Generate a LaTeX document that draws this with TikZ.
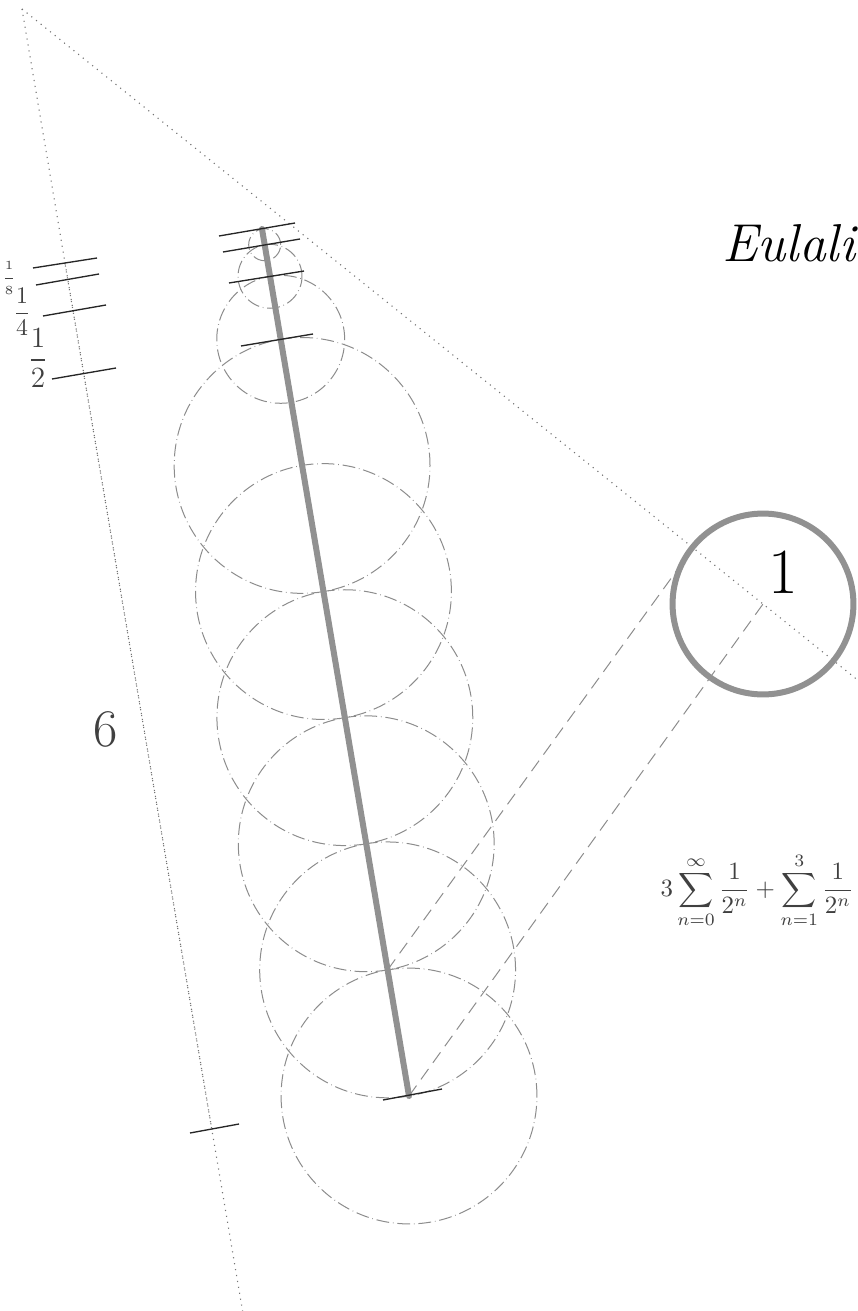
\RequirePackage{fix-cm}
\documentclass[tikz,border=0pt]{standalone}
\usepackage{amsmath}
\usetikzlibrary{calc}
\begin{document}
\begin{tikzpicture}[x=0.45pt,y=-0.45pt,
  thickseg/.style={line width=2.7pt, draw=black!43, line cap=round},
  tickmark/.style={line width=0.6pt, draw=black!85},
  dotline/.style={line width=0.5pt, draw=black!55, dash pattern=on 0.5pt off 2.2pt},
  dashline/.style={line width=0.45pt, draw=black!45, dash pattern=on 5.8pt off 3.4pt},
  ddcircle/.style={line width=0.45pt, draw=black!45, dash pattern=on 5.8pt off 1.7pt on 0.3pt off 1.7pt},
  ringone/.style={line width=2.7pt, draw=black!43},
  lbl/.style={text=black!75, inner sep=0pt}]
\useasboundingbox (0,0) rectangle (858,1311);
\clip (0,0) rectangle (858,1311);
\def\u{57.56pt}
\coordinate (A) at (22,9);
\coordinate (P) at (262,229);
\coordinate (B) at (409,1096);
\coordinate (C) at (763,604);
\coordinate (R0) at (64.8,262.4);
\coordinate (Rb) at (211.8,1129.3);
\foreach \t/\n in {0.125/p1, 0.375/p2, 0.875/p3, 1.875/c1, 2.875/c2, 3.875/c3, 4.875/c4, 5.875/c5}
  \coordinate (\n) at ($(P)!\t/6.875!(B)$);
\coordinate (D) at ($(C)!0.0943!(A)$);
% dotted construction lines
\draw[dotline] (A) -- ($(A)!1.2!(Rb)$);
\draw[dotline] (A) -- ($(A)!1.15!(C)$);
\draw[dotline, dash phase=1.3pt] (R0) -- (Rb);
% dash-dot circles
\draw[ddcircle] (p1) circle[radius=\u/8];
\draw[ddcircle] (p2) circle[radius=\u/4];
\draw[ddcircle] (p3) circle[radius=\u/2];
\foreach \n in {c1,c2,c3,c4,c5,B}
  \draw[ddcircle] (\n) circle[radius=\u];
% dashed parallels
\draw[dashline] (B) -- (C);
\draw[dashline] (c5) -- (D);
% thick segment
\draw[thickseg] (P) -- (B);
% ticks on segment
\draw[tickmark] (219,236) -- (295,223);
\draw[tickmark] (223,252) -- (300,239);
\draw[tickmark] (229,283) -- (304,271);
\draw[tickmark] (241,346) -- (313,334);
\draw[tickmark] (383,1100) -- (442,1089);
% ticks on ruler
\draw[tickmark] (33,268) -- (97,258);
\draw[tickmark] (36,285) -- (99,274);
\draw[tickmark] (43,316) -- (106,305);
\draw[tickmark] (52,379) -- (116,368);
\draw[tickmark] (190,1133) -- (239,1124);
% unit circle
\draw[ringone] (C) circle[radius=40.7pt];
\node[inner sep=0pt, font=\fontsize{29}{30}\selectfont] (one) at (783,572.5) {1};
% labels
\node[lbl, font=\fontsize{5.6}{6}\selectfont] (l8) at (9,278) {$\dfrac{1}{8}$};
\node[lbl, font=\fontsize{10.7}{12}\selectfont] (l4) at (22,312) {$\dfrac{1}{4}$};
\node[lbl, font=\fontsize{13.2}{15}\selectfont] (l2) at (38,358) {$\dfrac{1}{2}$};
\node[lbl, font=\fontsize{23.8}{26}\selectfont] (l6) at (106,729) {6};
\node[lbl, font=\fontsize{11.2}{13}\selectfont] (sum) at (757,890)
  {$\displaystyle 3\sum_{n=0}^{\infty}\frac{1}{2^n}+\sum_{n=1}^{3}\frac{1}{2^n}$};
\node[anchor=base west, inner sep=0pt,
  font=\itshape\fontsize{24}{26}\selectfont]
  (name) at (722,262) {Eulalia};
\end{tikzpicture}
\end{document}
